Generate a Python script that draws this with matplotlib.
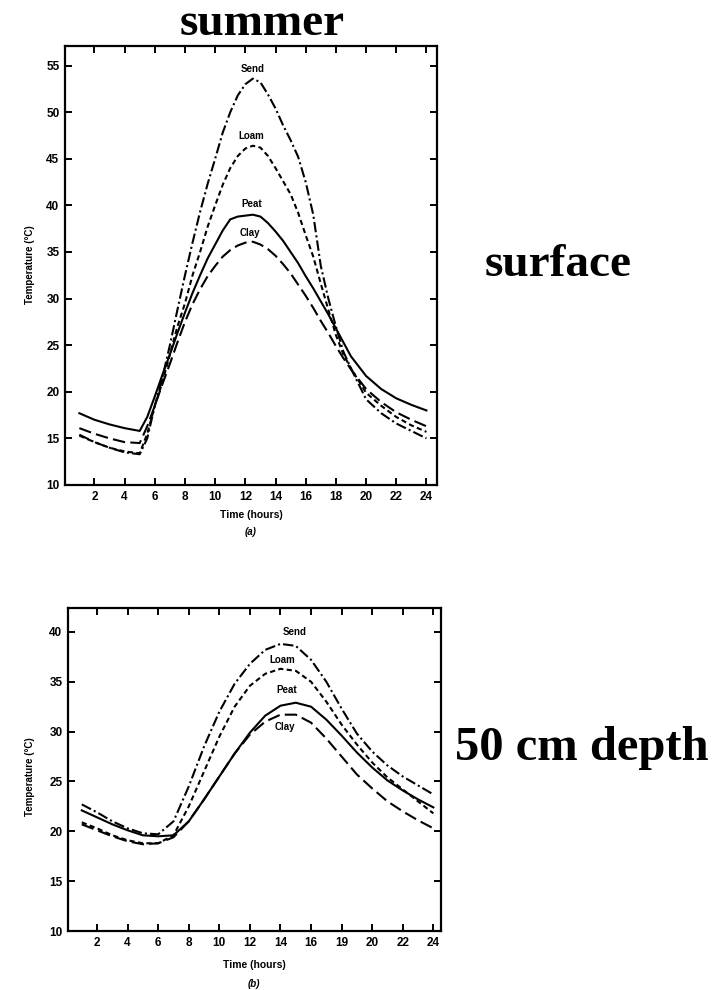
import matplotlib
matplotlib.use("Agg")
import matplotlib.pyplot as plt

plt.rcParams['font.family'] = ['Liberation Sans', 'DejaVu Sans']
plt.rcParams['font.weight'] = 'bold'

# (a) surface: hourly, half-hourly through the daytime peak
hours_a = [1, 2, 3, 4, 5, 5.5, 6, 6.5, 7, 7.5, 8, 8.5, 9, 9.5, 10, 10.5, 11, 11.5,
           12, 12.5, 13, 13.5, 14, 14.5, 15, 15.5, 16, 16.5, 17, 17.5, 18, 18.5, 19,
           20, 21, 22, 23, 24]
surf_sand = [15.4, 14.6, 14.0, 13.5, 13.3, 15.0, 18.5, 21.5, 25.0, 28.8, 32.5, 36.0,
             39.3, 42.3, 45.0, 47.8, 50.0, 51.8, 53.0, 53.6, 53.2, 51.9, 50.4, 48.6,
             47.0, 45.2, 42.5, 39.0, 33.5, 30.0, 27.0, 24.3, 22.5,
             19.2, 17.7, 16.6, 15.8, 15.0]
surf_loam = [15.3, 14.6, 14.0, 13.6, 13.4, 15.5, 18.5, 21.0, 24.0, 27.0, 29.5, 32.5,
             35.0, 37.7, 40.0, 42.2, 44.0, 45.3, 46.1, 46.4, 46.2, 45.3, 44.0, 42.6,
             41.2, 39.2, 36.8, 34.5, 31.6, 28.8, 26.1, 24.0, 22.5,
             19.9, 18.5, 17.3, 16.4, 15.7]
surf_peat = [17.7, 17.0, 16.5, 16.1, 15.8, 17.3, 19.5, 21.8, 24.0, 26.3, 28.5, 30.6,
             32.5, 34.3, 35.8, 37.3, 38.5, 38.8, 38.9, 39.0, 38.8, 38.1, 37.2, 36.2,
             35.0, 33.8, 32.4, 31.1, 29.7, 28.3, 26.8, 25.3, 23.8,
             21.7, 20.3, 19.3, 18.6, 18.0]
surf_clay = [16.1, 15.5, 15.0, 14.6, 14.5, 16.3, 18.5, 20.8, 23.0, 25.3, 27.5, 29.4,
             31.0, 32.4, 33.5, 34.5, 35.2, 35.7, 36.0, 36.1, 35.8, 35.3, 34.6, 33.7,
             32.7, 31.5, 30.3, 29.0, 27.6, 26.3, 24.9, 23.6, 22.4,
             20.3, 18.9, 17.8, 17.0, 16.3]

# (b) 50 cm depth: hourly
hours_b = list(range(1, 25))
deep_sand = [22.7, 21.9, 21.0, 20.3, 19.8, 19.7, 21.0, 24.5, 28.5, 32.0, 34.8, 36.8,
             38.2, 38.8, 38.6, 37.2, 35.0, 32.3, 29.8, 28.0, 26.6, 25.5, 24.6, 23.7]
deep_loam = [20.9, 20.3, 19.6, 19.1, 18.8, 18.8, 19.6, 22.5, 26.0, 29.5, 32.5, 34.6,
             35.8, 36.3, 36.1, 35.0, 33.0, 30.7, 28.7, 26.9, 25.4, 24.2, 23.0, 21.8]
deep_peat = [22.1, 21.4, 20.7, 20.1, 19.6, 19.5, 19.6, 21.0, 23.2, 25.5, 27.8, 29.9,
             31.6, 32.6, 32.9, 32.5, 31.2, 29.6, 27.9, 26.4, 25.1, 24.1, 23.2, 22.4]
deep_clay = [20.7, 20.1, 19.5, 19.0, 18.7, 18.8, 19.4, 21.0, 23.2, 25.5, 27.8, 29.7,
             31.0, 31.7, 31.7, 30.9, 29.3, 27.5, 25.7, 24.3, 23.0, 22.0, 21.1, 20.3]

soil_names = ["Send", "Loam", "Peat", "Clay"]
xticks = [2, 4, 6, 8, 10, 12, 14, 16, 18, 20, 22, 24]
xtick_labels_a = ["2", "4", "6", "8", "10", "12", "14", "16", "18", "20", "22", "24"]
xtick_labels_b = ["2", "4", "6", "8", "10", "12", "14", "16", "19", "20", "22", "24"]
yticks_a = [10, 15, 20, 25, 30, 35, 40, 45, 50, 55]
yticks_b = [10, 15, 20, 25, 30, 35, 40]

# label anchor points (x, y) in data units
labels_a = [(12.5, 54.6), (12.4, 47.4), (12.4, 40.1), (12.3, 37.0)]
labels_b = [(14.9, 40.0), (14.1, 37.2), (14.4, 34.2), (14.3, 30.5)]

styles = {
    "Send": (0, (5, 1.5, 1, 1.5)),
    "Loam": (0, (2.5, 1.6)),
    "Peat": "-",
    "Clay": (0, (6, 2.5)),
}

fig = plt.figure(figsize=(7.22, 9.9), dpi=100)
W, H = 722, 990

def axes_px(l, t, r, b):
    return fig.add_axes([l / W, 1 - b / H, (r - l) / W, (b - t) / H])

ax1 = axes_px(65, 46, 437, 485)
ax2 = axes_px(68, 608, 441, 931)

def style_axes(ax, ylim, xlim, yticks, xlabels):
    ax.set_xlim(*xlim)
    ax.set_ylim(*ylim)
    ax.set_xticks(xticks)
    ax.set_xticklabels(xlabels)
    ax.set_yticks(yticks)
    ax.tick_params(direction='in', top=True, right=True, length=5, width=1.4,
                   labelsize=8.5, pad=4)
    for lab in ax.get_xticklabels() + ax.get_yticklabels():
        lab.set_fontweight('bold')
    for s in ax.spines.values():
        s.set_linewidth(1.6)

series_a = [surf_sand, surf_loam, surf_peat, surf_clay]
series_b = [deep_sand, deep_loam, deep_peat, deep_clay]

for name, ys in zip(soil_names, series_a):
    ax1.plot(hours_a, ys, color='black', lw=1.5, linestyle=styles[name])
for name, (lx, ly) in zip(soil_names, labels_a):
    ax1.text(lx, ly, name, ha='center', va='center', fontsize=7, fontweight='bold')
style_axes(ax1, (10, 57.1), (0.05, 24.7), yticks_a, xtick_labels_a)

for name, ys in zip(soil_names, series_b):
    ax2.plot(hours_b, ys, color='black', lw=1.5, linestyle=styles[name])
for name, (lx, ly) in zip(soil_names, labels_b):
    ax2.text(lx, ly, name, ha='center', va='center', fontsize=7, fontweight='bold')
style_axes(ax2, (10, 42.4), (0.1, 24.5), yticks_b, xtick_labels_b)

# axis labels
fig.text(30 / W, 1 - 265 / H, "Temperature (°C)", rotation=90, ha='center', va='center',
         fontsize=7, fontweight='bold')
fig.text(251 / W, 1 - 515 / H, "Time (hours)", ha='center', va='center',
         fontsize=7.5, fontweight='bold')
fig.text(251 / W, 1 - 532 / H, "(a)", ha='center', va='center',
         fontsize=7, fontweight='bold', style='italic')

fig.text(30 / W, 1 - 777 / H, "Temperature (°C)", rotation=90, ha='center', va='center',
         fontsize=7, fontweight='bold')
fig.text(254 / W, 1 - 965 / H, "Time (hours)", ha='center', va='center',
         fontsize=7.5, fontweight='bold')
fig.text(254 / W, 1 - 984 / H, "(b)", ha='center', va='center',
         fontsize=7, fontweight='bold', style='italic')

# big annotations
serif = ['Liberation Serif', 'DejaVu Serif']
fig.text(262 / W, 1 - 35 / H, "summer", ha='center', va='baseline',
         fontsize=34, fontweight='bold', family=serif)
fig.text(485 / W, 1 - 276 / H, "surface", ha='left', va='baseline',
         fontsize=34, fontweight='bold', family=serif)
fig.text(455 / W, 1 - 760 / H, "50 cm depth", ha='left', va='baseline',
         fontsize=35, fontweight='bold', family=serif)

fig.savefig("out.png", dpi=100)
